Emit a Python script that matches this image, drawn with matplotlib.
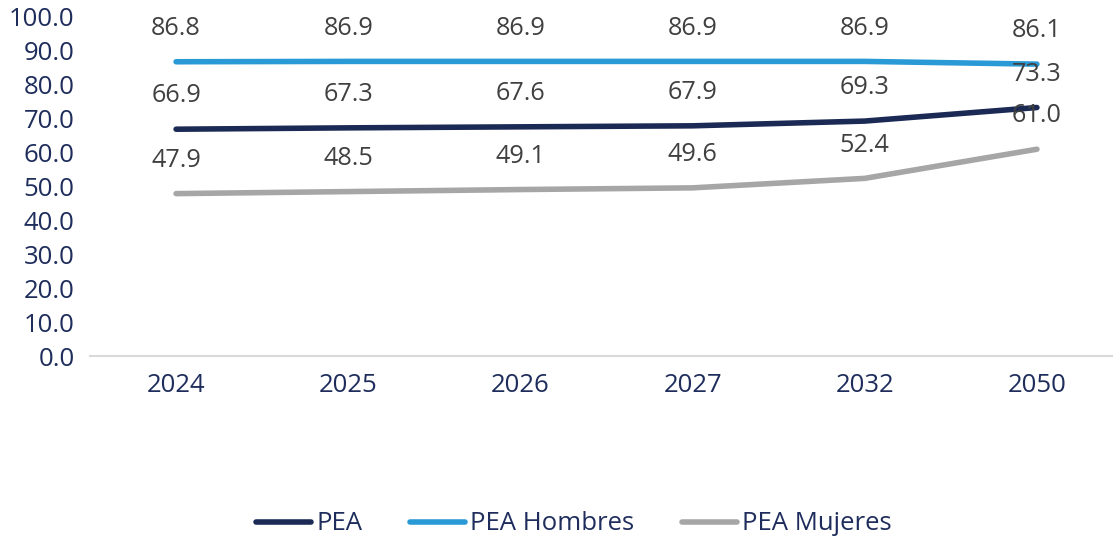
import matplotlib.pyplot as plt

YEARS = ["2024", "2025", "2026", "2027", "2032", "2050"]
PEA = [66.9, 67.3, 67.6, 67.9, 69.3, 73.3]
PEA_HOMBRES = [86.8, 86.9, 86.9, 86.9, 86.9, 86.1]
PEA_MUJERES = [47.9, 48.5, 49.1, 49.6, 52.4, 61.0]
Y_TICKS = [0, 10, 20, 30, 40, 50, 60, 70, 80, 90, 100]

NAVY = "#1B2A55"
BLUE = "#2A9AD6"
GRAY = "#A6A6A6"
LABEL_COLOR = "#404040"
TICK_COLOR = "#1F2D5C"
FS = 18.5

plt.rcParams["font.family"] = ["Open Sans", "DejaVu Sans"]

fig = plt.figure(figsize=(11.13, 5.39), dpi=100)
ax = fig.add_axes([90 / 1113, 183 / 539, 1033 / 1113, 339 / 539])

x = list(range(len(YEARS)))
series = [
    ("PEA", PEA, NAVY),
    ("PEA Hombres", PEA_HOMBRES, BLUE),
    ("PEA Mujeres", PEA_MUJERES, GRAY),
]
for label, values, color in series:
    ax.plot(x, values, color=color, linewidth=4, solid_capstyle="round", label=label)
    for xi, v in zip(x, values):
        ax.annotate(f"{v:.1f}", (xi, v), xytext=(0, 24), textcoords="offset points",
                    ha="center", va="center", fontsize=18.2, color=LABEL_COLOR)

ax.set_xlim(-0.5, len(YEARS) - 0.5)
ax.set_ylim(0, 100)
ax.set_yticks(Y_TICKS)
ax.set_yticklabels([f"{t:.1f}" for t in Y_TICKS])
ax.set_xticks(x)
ax.set_xticklabels(YEARS)
ax.tick_params(axis="both", length=0, labelsize=FS, labelcolor=TICK_COLOR)
ax.tick_params(axis="y", pad=11)
ax.tick_params(axis="x", pad=12)
for side in ("top", "right", "left"):
    ax.spines[side].set_visible(False)
ax.spines["bottom"].set_color("#D9D9D9")
ax.spines["bottom"].set_linewidth(1.5)

leg = fig.legend(loc="center", bbox_to_anchor=(574 / 1113, 15 / 539), ncol=3,
                 frameon=False, fontsize=FS, handlelength=2.15, handletextpad=0.2,
                 columnspacing=1.85)
for text in leg.get_texts():
    text.set_color(TICK_COLOR)

fig.savefig("out.png", dpi=100)
